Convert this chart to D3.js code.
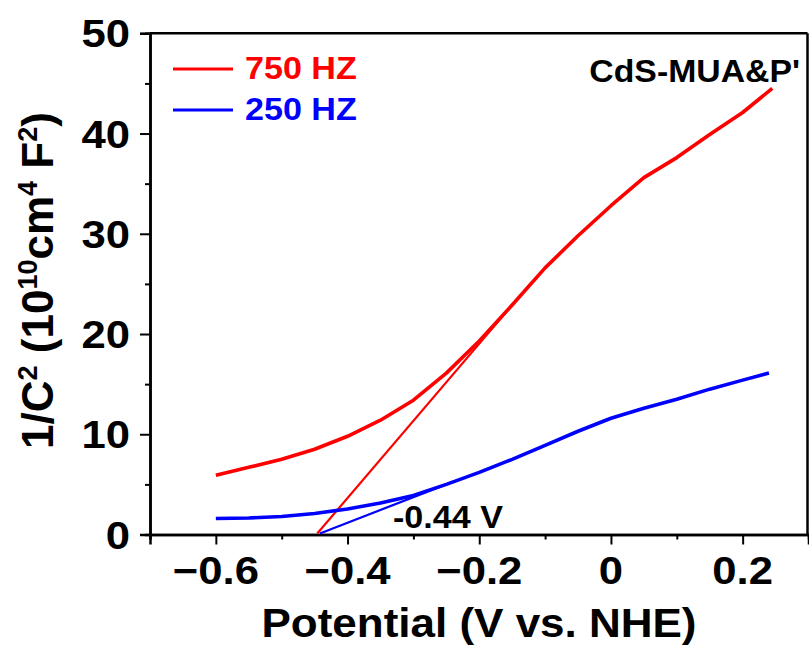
<!DOCTYPE html>
<html>
<head>
<meta charset="utf-8">
<script src="https://cdn.jsdelivr.net/npm/d3@7"></script>
<style>
  html, body { margin: 0; padding: 0; background: #fff; }
  svg { display: block; }
  text { font-family: "Liberation Sans", Arial, sans-serif; font-weight: bold; }
</style>
</head>
<body>
<svg id="chart" width="809" height="646"></svg>
<script>
// ---- data ----
const potential750 = [-0.6, -0.55, -0.5, -0.45, -0.4, -0.35, -0.3, -0.25, -0.2, -0.15, -0.1, -0.05, 0, 0.05, 0.1, 0.15, 0.2, 0.245];
const invC2_750   = [5.9, 6.7, 7.5, 8.5, 9.8, 11.4, 13.4, 16.1, 19.3, 22.9, 26.6, 29.8, 32.8, 35.6, 37.6, 39.9, 42.1, 44.5];
const potential250 = [-0.6, -0.55, -0.5, -0.45, -0.4, -0.35, -0.3, -0.25, -0.2, -0.15, -0.1, -0.05, 0, 0.05, 0.1, 0.15, 0.2, 0.24];
const invC2_250   = [1.6, 1.65, 1.8, 2.1, 2.55, 3.15, 3.9, 5.0, 6.2, 7.5, 8.9, 10.3, 11.6, 12.6, 13.5, 14.5, 15.4, 16.1];
const tangent750 = [[-0.446, 0.1], [-0.12, 25.2]];
const tangent250 = [[-0.442, 0.1], [-0.25, 5.0]];
const seriesNames = ["750 HZ", "250 HZ"];
const seriesColors = ["#ff0000", "#0000ff"];
const xTicks = [-0.6, -0.4, -0.2, 0, 0.2];
const xMinor = [-0.7, -0.5, -0.3, -0.1, 0.1, 0.3];
const yTicks = [0, 10, 20, 30, 40, 50];
const yMinor = [5, 15, 25, 35, 45];
const sampleLabel = "CdS-MUA&P'";
const fbLabel = "-0.44 V";

// ---- layout ----
const svg = d3.select("#chart");
const x = d3.scaleLinear().domain([-0.7, 0.3]).range([150, 808.5]);
const y = d3.scaleLinear().domain([0, 50]).range([534.5, 33.3]);
const SX = 1.12; // horizontal stretch of the glyphs in the reference

function stext(px, py, str, size, anchor, fill, sx) {
  const g = svg.append("g").attr("transform", `translate(${px},${py}) scale(${sx || SX},1)`);
  return g.append("text").attr("x", 0).attr("y", 0)
    .attr("text-anchor", anchor).attr("font-size", size).attr("fill", fill || "#000").text(str);
}

// frame (top and right)
svg.append("line").attr("x1", x(-0.7)).attr("x2", x(0.3) - 1).attr("y1", y(50)).attr("y2", y(50))
  .attr("stroke", "#000").attr("stroke-width", 2.5);
svg.append("line").attr("x1", x(0.3) - 1).attr("x2", x(0.3) - 1).attr("y1", y(50)).attr("y2", y(0))
  .attr("stroke", "#000").attr("stroke-width", 2.5);

// axes
const xAxis = d3.axisBottom(x).tickValues(xTicks).tickSize(10).tickFormat("");
const xAxisMinor = d3.axisBottom(x).tickValues(xMinor).tickSize(5).tickFormat("");
const yAxis = d3.axisLeft(y).tickValues(yTicks).tickSize(10).tickFormat("");
const yAxisMinor = d3.axisLeft(y).tickValues(yMinor).tickSize(5).tickFormat("");

function styleAxis(g) {
  g.select(".domain").attr("stroke", "#000").attr("stroke-width", 2.5);
  g.selectAll(".tick line").attr("stroke", "#000").attr("stroke-width", 2);
}
svg.append("g").attr("transform", `translate(0,${y(0)})`).call(xAxisMinor).call(styleAxis);
svg.append("g").attr("transform", `translate(0,${y(0)})`).call(xAxis).call(styleAxis);
svg.append("g").attr("transform", `translate(${x(-0.7)},0)`).call(yAxisMinor).call(styleAxis);
svg.append("g").attr("transform", `translate(${x(-0.7)},0)`).call(yAxis).call(styleAxis);

// tick labels
const fmtX = v => v === 0 ? "0" : (v < 0 ? "\u2212" : "") + Math.abs(v).toFixed(1);
xTicks.forEach(v => stext(x(v), y(0) + 49, fmtX(v), 39, "middle"));
yTicks.forEach(v => stext(x(-0.7) - 20, y(v) + 14, String(v), 39, "end"));

// axis titles
stext(479, 637, "Potential (V vs. NHE)", 40, "middle", "#000", 1.1);

const yt = svg.append("text")
  .attr("transform", `translate(53,280.5) rotate(-90)`)
  .attr("text-anchor", "middle").attr("font-size", 44);
const parts = [["1/C", false], ["2", true], [" (10", false], ["10", true], ["cm", false], ["4", true], ["\u00a0F", false], ["2", true], [")", false]];
parts.forEach(([t, sup], i) => {
  const prevSup = i > 0 && parts[i - 1][1];
  const ts = yt.append("tspan").text(t);
  if (sup) ts.attr("font-size", 27).attr("dy", -16);
  else if (prevSup) ts.attr("dy", 16);
});

// data lines
const line = d3.line().x(d => x(d[0])).y(d => y(d[1]));
const d750 = potential750.map((p, i) => [p, invC2_750[i]]);
const d250 = potential250.map((p, i) => [p, invC2_250[i]]);

svg.append("path").datum(tangent750).attr("d", line).attr("fill", "none")
  .attr("stroke", seriesColors[0]).attr("stroke-width", 2.2);
svg.append("path").datum(tangent250).attr("d", line).attr("fill", "none")
  .attr("stroke", seriesColors[1]).attr("stroke-width", 2.2);
svg.append("path").datum(d750).attr("d", line).attr("fill", "none")
  .attr("stroke", seriesColors[0]).attr("stroke-width", 3.6).attr("stroke-linejoin", "round");
svg.append("path").datum(d250).attr("d", line).attr("fill", "none")
  .attr("stroke", seriesColors[1]).attr("stroke-width", 3.6).attr("stroke-linejoin", "round");

// legend
[0, 1].forEach(i => {
  const ly = 69 + i * 41;
  svg.append("line").attr("x1", 173).attr("x2", 233).attr("y1", ly).attr("y2", ly)
    .attr("stroke", seriesColors[i]).attr("stroke-width", 3);
  stext(245, ly + 9.5, seriesNames[i], 31, "start", seriesColors[i], 1.1);
});

// annotations
stext(800, 82, sampleLabel, 31, "end", "#000", 1.09);
stext(393, 527.5, fbLabel, 31, "start", "#000", 1.1);
</script>
</body>
</html>
